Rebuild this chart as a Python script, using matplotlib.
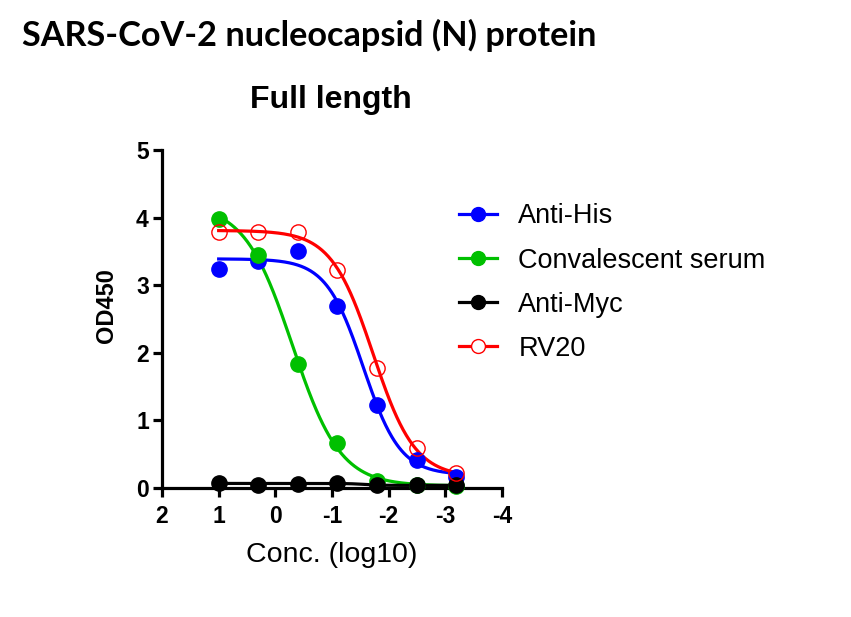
import numpy as np
import matplotlib
matplotlib.use("Agg")
import matplotlib.pyplot as plt

# ---- data ----
conc_log10 = [1.0, 0.301, -0.398, -1.097, -1.796, -2.495, -3.194]
anti_his = [3.24, 3.36, 3.51, 2.69, 1.23, 0.41, 0.17]
conv_serum = [3.98, 3.44, 1.83, 0.66, 0.11, 0.05, 0.03]
anti_myc = [0.08, 0.05, 0.06, 0.08, 0.04, 0.04, 0.04]
rv20 = [3.78, 3.78, 3.78, 3.23, 1.78, 0.59, 0.22]

series_names = ["Anti-His", "Convalescent serum", "Anti-Myc", "RV20"]
series_values = [anti_his, conv_serum, anti_myc, rv20]
series_colors = ["#0000FF", "#00C000", "#000000", "#FF0000"]
series_filled = [True, True, True, False]

title_main = "SARS-CoV-2 nucleocapsid (N) protein"
title_sub = "Full length"
x_label = "Conc. (log10)"
y_label = "OD450"
x_ticks = [2, 1, 0, -1, -2, -3, -4]
y_ticks = [0, 1, 2, 3, 4, 5]


def fit_4pl(x, y):
    """Fit 4-parameter logistic by grid search over (logEC50, hill) with linear LSQ for top/bottom."""
    x = np.asarray(x, float)
    y = np.asarray(y, float)
    best = None
    for c in np.linspace(-4, 2, 241):
        for h in np.linspace(0.3, 3.0, 109):
            s = 1.0 / (1.0 + 10 ** ((c - x) * h))
            A = np.column_stack([np.ones_like(s), s])
            coef, *_ = np.linalg.lstsq(A, y, rcond=None)
            r = np.sum((A @ coef - y) ** 2)
            if best is None or r < best[0]:
                best = (r, c, h, coef)
    _, c, h, coef = best
    return lambda xx: coef[0] + coef[1] / (1.0 + 10 ** ((c - xx) * h))


fig = plt.figure(figsize=(8.51, 6.17), dpi=100)
ax = fig.add_axes([162 / 851, 1 - 488 / 617, 340 / 851, 338 / 617])

xs = np.linspace(max(conc_log10), min(conc_log10), 300)
handles = []
for name, vals, col, filled in zip(series_names, series_values, series_colors, series_filled):
    f = fit_4pl(conc_log10, vals)
    ax.plot(xs, f(xs), color=col, lw=2.3, zorder=2)
    if filled:
        ax.plot(conc_log10, vals, 'o', color=col, ms=11, zorder=3, clip_on=False)
        h, = ax.plot([], [], '-o', color=col, lw=2.3, ms=10)
    else:
        ax.plot(conc_log10, vals, 'o', mfc='none', mec=col, mew=1.0, ms=11, zorder=3, clip_on=False)
        h, = ax.plot([], [], '-o', color=col, lw=2.3, ms=10, mfc='white', mec=col, mew=1.0)
    handles.append(h)

ax.set_xlim(2, -4)
ax.set_ylim(0, 5)
ax.set_xticks(x_ticks)
ax.set_yticks(y_ticks)
ax.set_xticklabels([str(t) for t in x_ticks])
for s in ["top", "right"]:
    ax.spines[s].set_visible(False)
for s in ["left", "bottom"]:
    ax.spines[s].set_linewidth(2.3)
ax.tick_params(width=2.3, length=6.5, direction='out', labelsize=16.5)
ax.tick_params(axis='x', pad=6)
ax.tick_params(axis='y', pad=3)
for lbl in ax.get_xticklabels() + ax.get_yticklabels():
    lbl.set_fontweight('bold')
    lbl.set_fontfamily('Liberation Sans')

ax.set_xlabel(x_label, fontsize=20.5, family='Liberation Sans', labelpad=10)
ax.set_ylabel(y_label, fontsize=17, family='Liberation Sans', fontweight='bold')
ax.yaxis.set_label_coords(-0.128, 0.541)

fig.text(22 / 851, 1 - 46 / 617, title_main, fontsize=24.7, family='Lato', fontweight='bold',
         ha='left', va='baseline')
fig.text(331 / 851, 1 - 108 / 617, title_sub, fontsize=23, family='Liberation Sans',
         fontweight='bold', ha='center', va='baseline')

leg = fig.legend(handles, series_names, loc='upper left', bbox_to_anchor=(435 / 851, 1 - 179 / 617),
                 frameon=False, prop={'family': 'Liberation Sans', 'size': 19.5},
                 handlelength=1.4, handletextpad=0.78, labelspacing=0.67)

fig.savefig("out.png", dpi=100)
